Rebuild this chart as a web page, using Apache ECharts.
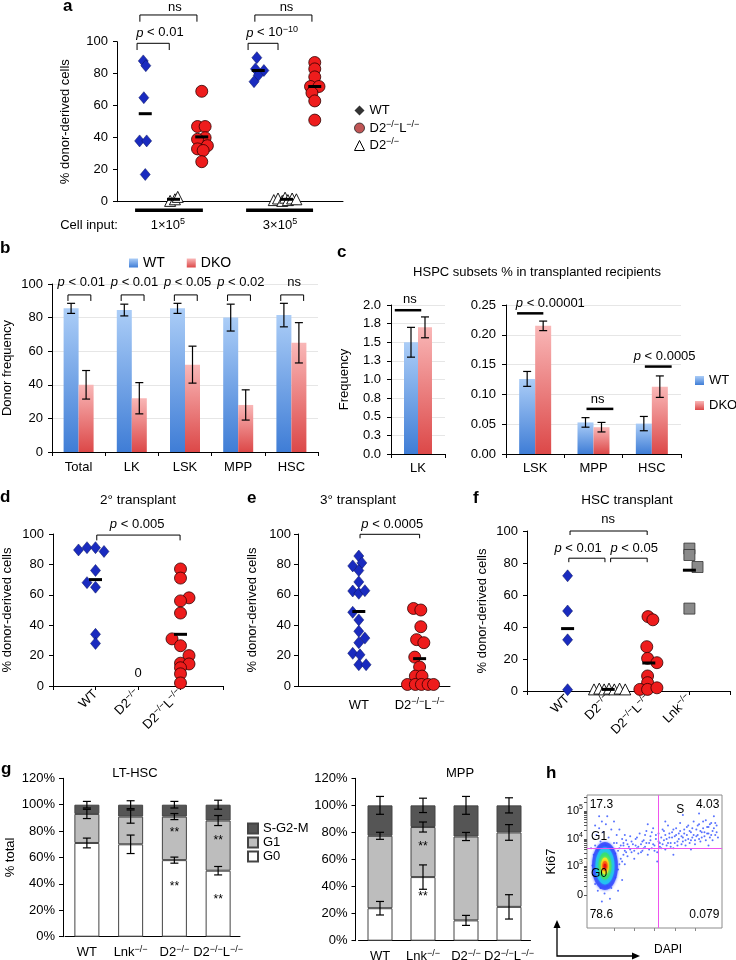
<!DOCTYPE html>
<html><head><meta charset="utf-8">
<script src="https://cdn.jsdelivr.net/npm/echarts@6/dist/echarts.min.js"></script>
<style>html,body{margin:0;padding:0;background:#fff}#c{width:736px;height:960px}</style>
</head><body><div id="c"></div>
<script>
// ---------------- DATA ----------------
// Panel a: [x position (group units, with jitter), % donor-derived]
const aWT = [[0.93,88],[1.02,85],[0.95,65],[0.8,38],[1.05,38],[1.0,17],[4.95,90],[4.9,83],[5.2,82],[5.0,79],[4.85,75]];
const aD2L = [[3.0,69],[2.85,47],[3.12,47],[3.12,40],[2.85,39],[3.2,35],[2.85,33],[3.05,32],[3.0,25],
              [7.0,87],[7.0,83],[7.0,78],[6.85,72],[7.15,72],[6.9,68],[7.0,63],[7.0,51]];
const aD2 = [[1.88,0.5],[2.05,1.5],[2.15,3],[5.55,1],[5.7,2],[5.85,0.5],[5.95,2.5],[6.05,1],[6.2,2],[6.35,1.5]];
const aMeans = [[1,55],[2,1.5],[3,40.5],[5,82],[6,1.5],[7,72]];

// Panel b
const bCats = ['Total','LK','LSK','MPP','HSC'];
const bWT = [85.5,84.5,85.5,80,81.5];
const bWTErr = [3,3.5,3,8,7];
const bDKO = [40,32,52,28,65];
const bDKOErr = [8.5,9.3,11,9,12];
const bP = ['p < 0.01','p < 0.01','p < 0.05','p < 0.02','ns'];

// Panel c
const cLeftCats = ['LK'];
const cLeftWT = [1.5], cLeftWTErr = [0.2];
const cLeftDKO = [1.7], cLeftDKOErr = [0.14];
const cRightCats = ['LSK','MPP','HSC'];
const cRightWT = [0.126,0.053,0.051], cRightWTErr = [0.0125,0.008,0.012];
const cRightDKO = [0.215,0.045,0.113], cRightDKOErr = [0.008,0.008,0.018];

// Panel d (2° transplant)
const dWT = [[0.6,89.5],[0.8,91],[1.0,91],[1.2,88.5],[1.0,76],[0.8,68],[1.0,65],[1.0,34],[1.0,28]];
const dD2L = [[3.0,77],[3.0,71],[3.2,58],[3.0,56],[3.0,48],[2.8,31],[3.0,26.5],[3.2,20],[3.0,15],[3.2,14.5],[3.0,12],[3.0,8],[3.0,2]];
const dMeans = [[1,70],[3,34]];

// Panel e (3° transplant)
const eWT = [[1.0,85.5],[1.05,81],[0.9,79],[1.0,76],[1.0,68.5],[0.9,62.5],[1.0,61],[1.1,62.7],[0.9,48.5],[1.0,43.5],
             [1.0,36],[1.1,31.5],[1.0,28.5],[0.9,21.5],[1.02,20.5],[1.0,14],[1.12,14]];
const eD2L = [[1.9,51],[2.02,50],[2.02,39],[1.95,30.5],[2.07,28.5],[1.92,19],[2.0,12.5],[1.93,6.5],[2.04,6.5],
              [1.8,1],[1.93,1],[2.03,1],[2.14,1],[2.23,1]];
const eMeans = [[1,49],[2,18]];

// Panel f (HSC transplant)
const fWT = [[1.0,72],[1.0,50],[1.0,32],[1.0,0.8]];
const fD2 = [[1.65,1],[1.78,1.5],[1.9,1],[2.02,1.5],[2.15,1],[2.28,1.5],[2.42,1]];
const fD2L = [[2.98,46.5],[3.1,44.5],[2.95,27.7],[2.97,20.4],[3.2,17.7],[2.97,9.4],[2.97,5.2],[2.78,1],[2.97,1],[3.2,2]];
const fLnk = [[4.0,89],[4.0,85],[4.2,77.5],[4.0,51.5]];
const fMeans = [[1,39],[2,1],[3,17.5],[4,75.5]];

// Panel g (cell cycle, % of total)
const gCats = ['WT','Lnk','D2','D2L'];
const gLtG0 = [71,70,58,50], gLtG1 = [22,21,33,38], gLtS = [7,9,9,12];
const gLtErrG0 = [3.7,7,2.3,3.2], gLtErrG1 = [3.5,5,2.3,3.8], gLtErrS = [2.5,3,2.5,3.4];
const gMppG0 = [24,47,15,25], gMppG1 = [53.5,37,62,55], gMppS = [22.5,16,23,20];
const gMppErrG0 = [5,9,3.7,9], gMppErrG1 = [2.6,3.7,3,5.8], gMppErrS = [6.6,5.3,6.6,5.6];

// Panel h (flow plot, display units 0-100)
const hGateX = 52.6, hGateY = 60;
const hCore = [[13.3,46.6]];
const hYTickPos = [24.8,46.6,67,88];
const hYTickText = ['0','10{s|3}','10{s|4}','10{s|5}'];
const hQuad = ['17.3','4.03','78.6','0.079'];
const hDots = [[4,47],[5,55],[5,40],[6,62],[6,33],[7,50],[7,70],[8,28],[8,58],[9,42],[9,75],[10,65],[10,30],[11,52],[11,80],
 [12,36],[12,72],[13,26],[14,62],[14,78],[15,32],[16,68],[16,40],[17,56],[18,74],[18,30],[19,47],[20,64],[21,38],[21,56],
 [22,70],[23,44],[24,60],[25,52],[26,36],[27,64],[15,84],[9,84],[20,80],[24,74],[6,77],[3,60],[28,48],[17,22],[11,20],[23,28],
 [28,58],[29,66],[30,54],[31,61],[32,69],[33,57],[34,63],[35,52],[36,67],[37,60],[38,56],[39,71],[40,63],[41,58],[42,66],
 [43,61],[44,73],[45,55],[46,64],[47,69],[48,60],[49,75],[50,62],[51,67],[52,57],[53,71],[54,64],[55,60],[56,74],[57,66],
 [58,70],[59,62],[60,77],[61,68],[62,64],[63,72],[64,60],[65,69],[66,75],[67,65],[68,71],[69,79],[70,63],[71,68],[72,74],
 [73,66],[74,70],[75,77],[76,64],[77,72],[78,68],[79,80],[80,66],[81,74],[82,70],[83,78],[84,65],[85,72],[86,75],[87,69],
 [88,81],[89,71],[90,76],[91,68],[92,79],[93,73],[94,84],[95,70],[96,77],[71,85],[58,80],[45,78],[83,86],[64,55],[77,59],
 [90,62],[52,50],
 [27,62],[29,57],[30,63],[32,59],[33,65],[35,58],[36,62],[37,68],[38,61],[40,57],[41,65],[42,60],[43,70],[44,64],[46,59],
 [47,66],[48,72],[49,63],[50,58],[51,70],[53,65],[54,61],[55,68],[56,63],[57,73],[58,59],[59,67],[60,64],[61,71],[62,61],
 [63,68],[64,74],[65,64],[66,70],[67,62],[68,67],[69,73],[70,69],[71,65],[72,71],[73,62],[74,76],[75,67],[76,73],[77,66],
 [78,75],[79,70],[80,63],[81,69],[82,77],[83,67],[84,73],[85,68],[86,80],[87,72],[88,66],[89,76],[90,71],[91,78],[92,70],
 [93,66],[94,75],[95,79],[96,72],[97,68],[26,50],[27,55],[25,62],[24,48],[26,67],[28,70],[22,64],[23,58],[20,52],[19,60]];

// ---------------- HELPERS ----------------
const FONT = '"Liberation Sans", Arial, Helvetica, sans-serif';
function rich(size){
  const s = Math.round(size*0.68);
  return {
    n:{fontSize:size,fontFamily:FONT,color:'#000',lineHeight:size+3},
    i:{fontSize:size,fontFamily:FONT,color:'#000',fontStyle:'italic',lineHeight:size+3},
    s:{fontSize:s,fontFamily:FONT,color:'#000',verticalAlign:'top',lineHeight:s+1}
  };
}
const T_D2 = '{n|D2}{s|−/−}';
const T_D2L = '{n|D2}{s|−/−}{n|L}{s|−/−}';
const T_LNK = '{n|Lnk}{s|−/−}';
const CAT_TXT = {WT:'{n|WT}', Lnk:T_LNK, D2:T_D2, D2L:T_D2L};
function pTxt(s){ return s.charAt(0)==='p' ? '{i|p}{n|'+s.slice(1)+'}' : '{n|'+s+'}'; }

const axLine = {show:true, lineStyle:{color:'#000', width:1}};
const axTick = {show:true, inside:false, length:4, lineStyle:{color:'#000', width:1}};
function lab(margin, extra){ return Object.assign({color:'#000', fontSize:13, fontFamily:FONT, margin:margin}, extra||{}); }
const nameStyle = {fontSize:13, fontFamily:FONT, color:'#000'};
const noSplit = {show:false};
const lightSplit = {show:true, lineStyle:{color:'#e6e6e6', width:1}};

function annoSeries(xi, items, isCat){
  return {
    type:'custom', xAxisIndex:xi, yAxisIndex:xi, clip:false, silent:true, z:10,
    data: items.map(it=>[0, it.y]),
    renderItem(params, api){
      const it = items[params.dataIndex];
      const P = (x,y)=>{
        if (isCat){ const b = api.coord([0,y]); const bw = api.size([1,0])[0]; return [b[0]+x*bw, b[1]]; }
        return api.coord([x,y]);
      };
      if (it.t==='br'){
        const a=P(it.x1,it.y), b=P(it.x2,it.y), ta=P(it.x1,it.y-it.tip), tb=P(it.x2,it.y-it.tip);
        return {type:'polyline', shape:{points:[ta,a,b,tb]}, style:{stroke:'#000', lineWidth:it.w||1, fill:null}};
      }
      if (it.t==='ln'){
        const a=P(it.x1,it.y), b=P(it.x2,it.y);
        return {type:'line', shape:{x1:a[0],y1:a[1],x2:b[0],y2:b[1]}, style:{stroke:'#000', lineWidth:it.w||1}};
      }
      const p=P(it.x,it.y), sz=it.size||13;
      return {type:'text', x:p[0], y:p[1], style:{text:it.text, rich:rich(sz), fill:'#000', font:sz+'px '+FONT,
        align:it.align||'center', verticalAlign:'middle', textAlign:it.align||'center', textVerticalAlign:'middle'}};
    }
  };
}
function errSeries(xi, tops, errs, offsetPx, cap){
  return {
    type:'custom', xAxisIndex:xi, yAxisIndex:xi, clip:false, silent:true, z:6,
    data: tops.map((v,i)=>[i, v, errs[i]]),
    renderItem(params, api){
      const i=api.value(0), v=api.value(1), e=api.value(2);
      const t=api.coord([i, v+e]), b=api.coord([i, v-e]);
      const x=t[0]+offsetPx, st={stroke:'#000', lineWidth:1.2};
      return {type:'group', children:[
        {type:'line', shape:{x1:x,y1:t[1],x2:x,y2:b[1]}, style:st},
        {type:'line', shape:{x1:x-cap,y1:t[1],x2:x+cap,y2:t[1]}, style:st},
        {type:'line', shape:{x1:x-cap,y1:b[1],x2:x+cap,y2:b[1]}, style:st}]};
    }
  };
}
const gradBlue = {type:'linear',x:0,y:0,x2:0,y2:1,colorStops:[{offset:0,color:'#abcdf7'},{offset:1,color:'#3f7dd6'}]};
const gradRed = {type:'linear',x:0,y:0,x2:0,y2:1,colorStops:[{offset:0,color:'#f9b7b7'},{offset:1,color:'#dc4848'}]};
const stWT = {color:'#1a2bbf', borderColor:'#0b155e', borderWidth:0.5, opacity:1};
const stD2L = {color:'#ee1c1c', borderColor:'#300000', borderWidth:0.8, opacity:1};
const stD2 = {color:'#ffffff', borderColor:'#000', borderWidth:0.9, opacity:1};
const stLnk = {color:'#8a8a8a', borderColor:'#333', borderWidth:0.8, opacity:1};
function dots(xi, name, data, symbol, size, st){
  return {type:'scatter', name:name, xAxisIndex:xi, yAxisIndex:xi, data:data, symbol:symbol, symbolSize:size, itemStyle:st, z:3, silent:true};
}
function means(xi, data){
  return {type:'scatter', xAxisIndex:xi, yAxisIndex:xi, data:data, symbol:'rect', symbolSize:[13,3], itemStyle:{color:'#000',opacity:1}, z:4, silent:true};
}
function cum(a,b){ return a.map((v,i)=>v+b[i]); }

// ---------------- GRIDS / AXES ----------------
const grids = [
  {left:117, top:41.7, width:226, height:160},   // a
  {left:52, top:284, width:266, height:168},     // b
  {left:391, top:305, width:54, height:149},     // c left
  {left:506, top:305, width:175, height:149},    // c right
  {left:53, top:534, width:170, height:152},     // d
  {left:298, top:534, width:152, height:152},    // e
  {left:527, top:531, width:203, height:160},    // f
  {left:65, top:778.3, width:175, height:158.4}, // g LT-HSC
  {left:358.5, top:778.3, width:172, height:162.4}, // g MPP
  {left:587, top:795, width:135, height:133, show:true, borderColor:'#8c8c8c', borderWidth:1} // h
].map(g=>Object.assign({outerBoundsMode:'none', containLabel:false}, g));

const catFmt = v=>CAT_TXT[v]||v;
const xAxes = [
  {gridIndex:0, type:'value', min:0, max:8, axisLine:axLine, axisTick:{show:false}, axisLabel:{show:false}, splitLine:noSplit},
  {gridIndex:1, type:'category', data:bCats, axisLine:axLine, axisTick:axTick, axisLabel:lab(9,{interval:0}), splitLine:noSplit},
  {gridIndex:2, type:'category', data:cLeftCats, axisLine:axLine, axisTick:axTick, axisLabel:lab(8,{interval:0}), splitLine:noSplit},
  {gridIndex:3, type:'category', data:cRightCats, axisLine:axLine, axisTick:axTick, axisLabel:lab(8,{interval:0}), splitLine:noSplit},
  {gridIndex:4, type:'value', min:0, max:4, axisLine:axLine, axisTick:Object.assign({},axTick,{customValues:[0,1,2,3,4]}),
    axisLabel:lab(6,{customValues:[1,2,3], rotate:45, rich:rich(13), formatter:v=>['','{n|WT}',T_D2,T_D2L][Math.round(v)]}), splitLine:noSplit},
  {gridIndex:5, type:'value', min:0, max:2.5, axisLine:axLine, axisTick:{show:false},
    axisLabel:lab(11,{customValues:[1,2], rich:rich(13), formatter:v=>['','{n|WT}',T_D2L][Math.round(v)]}), splitLine:noSplit},
  {gridIndex:6, type:'value', min:0, max:5, axisLine:axLine, axisTick:Object.assign({},axTick,{customValues:[0,1,2,3,4,5]}),
    axisLabel:lab(6,{customValues:[1,2,3,4], rotate:45, rich:rich(13), formatter:v=>['','{n|WT}',T_D2,T_D2L,T_LNK][Math.round(v)]}), splitLine:noSplit},
  {gridIndex:7, type:'category', data:gCats, axisLine:axLine, axisTick:{show:false}, axisLabel:lab(8,{interval:0, rich:rich(13), formatter:catFmt}), splitLine:noSplit},
  {gridIndex:8, type:'category', data:gCats, axisLine:axLine, axisTick:{show:false}, axisLabel:lab(8,{interval:0, rich:rich(13), formatter:catFmt}), splitLine:noSplit},
  {gridIndex:9, type:'value', min:0, max:100, axisLine:{show:false},
    axisTick:{show:true, inside:false, length:3, customValues:[20,35,50,65,80], lineStyle:{color:'#888'}}, axisLabel:{show:false}, splitLine:noSplit}
];

// minor log ticks for h y-axis
const hMinor = [];
[[46.6,67],[67,88]].forEach(([a,b])=>{ for(let k=1;k<=9;k++){ hMinor.push(a+(b-a)*Math.log10(k)); } });
hMinor.push(88);
[2,3,4].forEach(k=>{ const v=88+(88-67)*Math.log10(k); if(v<100) hMinor.push(v); });
hMinor.push(24.8);
[2,3,4,5,6,7,8,9].forEach(k=>hMinor.push(24.8+(46.6-24.8)*Math.log10(k)));

const yAxes = [
  {gridIndex:0, type:'value', min:0, max:100, interval:20, axisLine:axLine, axisTick:axTick, axisLabel:lab(9), splitLine:noSplit,
    name:'% donor-derived cells', nameLocation:'middle', nameGap:45, nameTextStyle:nameStyle},
  {gridIndex:1, type:'value', min:0, max:100, interval:20, axisLine:axLine, axisTick:axTick, axisLabel:lab(9), splitLine:lightSplit,
    name:'Donor frequency', nameLocation:'middle', nameGap:38, nameTextStyle:nameStyle},
  {gridIndex:2, type:'value', min:0, max:2, interval:0.25, axisLine:axLine, axisTick:axTick, axisLabel:lab(10,{formatter:v=>v.toFixed(1)}), splitLine:lightSplit,
    name:'Frequency', nameLocation:'middle', nameGap:40, nameTextStyle:nameStyle},
  {gridIndex:3, type:'value', min:0, max:0.25, interval:0.05, axisLine:axLine, axisTick:axTick, axisLabel:lab(10,{formatter:v=>v.toFixed(2)}), splitLine:lightSplit},
  {gridIndex:4, type:'value', min:0, max:100, interval:20, axisLine:axLine, axisTick:axTick, axisLabel:lab(9), splitLine:noSplit,
    name:'% donor-derived cells', nameLocation:'middle', nameGap:39, nameTextStyle:nameStyle},
  {gridIndex:5, type:'value', min:0, max:100, interval:20, axisLine:axLine, axisTick:axTick, axisLabel:lab(7), splitLine:noSplit,
    name:'% donor-derived cells', nameLocation:'middle', nameGap:39, nameTextStyle:nameStyle},
  {gridIndex:6, type:'value', min:0, max:100, interval:20, axisLine:axLine, axisTick:axTick, axisLabel:lab(9), splitLine:noSplit,
    name:'% donor-derived cells', nameLocation:'middle', nameGap:38, nameTextStyle:nameStyle},
  {gridIndex:7, type:'value', min:0, max:120, interval:20, offset:2, axisLine:axLine, axisTick:axTick, axisLabel:lab(8,{formatter:'{value}%'}), splitLine:noSplit,
    name:'% total', nameLocation:'middle', nameGap:46, nameTextStyle:nameStyle},
  {gridIndex:8, type:'value', min:0, max:120, interval:20, offset:3, axisLine:axLine, axisTick:axTick, axisLabel:lab(8,{formatter:'{value}%'}), splitLine:noSplit},
  {gridIndex:9, type:'value', min:0, max:100, axisLine:{show:false},
    axisTick:{show:true, inside:false, length:3, customValues:hMinor, lineStyle:{color:'#555'}},
    axisLabel:lab(4,{fontSize:11, rich:rich(11), customValues:hYTickPos,
      formatter:v=>{ let bi=0; hYTickPos.forEach((p,i)=>{ if(Math.abs(p-v)<Math.abs(hYTickPos[bi]-v)) bi=i; }); const t=hYTickText[bi]; return t.indexOf('{s|')>=0 ? '{n|'+t.replace('{s|','}{s|') : '{n|'+t+'}'; }}),
    splitLine:noSplit, name:'Ki67', nameLocation:'middle', nameGap:29, nameTextStyle:nameStyle}
];

// ---------------- SERIES ----------------
const series = [];
// a
series.push(dots(0,'aWT',aWT,'diamond',[10,12],stWT));
series.push(dots(0,'aD2L',aD2L,'circle',12,stD2L));
series.push(dots(0,'aD2',aD2,'triangle',11,stD2));
series.push(means(0,aMeans));
series.push(annoSeries(0,[
  {t:'br',x1:0.81,x2:2.83,y:116.7,tip:4.2},{t:'tx',x:2.05,y:121.5,text:'{n|ns}'},
  {t:'br',x1:0.71,x2:1.85,y:99,tip:4.2},{t:'tx',x:1.52,y:105.5,text:pTxt('p < 0.01')},
  {t:'br',x1:4.88,x2:6.9,y:116.7,tip:4.2},{t:'tx',x:6.0,y:121.5,text:'{n|ns}'},
  {t:'br',x1:4.64,x2:5.7,y:99,tip:4.2},{t:'tx',x:5.49,y:105.5,text:'{i|p}{n| < 10}{s|−10}'},
  {t:'ln',x1:0.64,x2:3.04,y:-5.3,w:3.5},{t:'ln',x1:4.57,x2:6.94,y:-5.3,w:3.5},
  {t:'tx',x:-0.99,y:-14.6,text:'{n|Cell input:}'},
  {t:'tx',x:1.8,y:-14.6,text:'{n|1×10}{s|5}'},{t:'tx',x:5.77,y:-14.6,text:'{n|3×10}{s|5}'}
], false));
// b
series.push({type:'bar', name:'bWT', xAxisIndex:1, yAxisIndex:1, data:bWT, barWidth:15, barGap:'0%', itemStyle:{color:gradBlue}, silent:true});
series.push({type:'bar', name:'bDKO', xAxisIndex:1, yAxisIndex:1, data:bDKO, barWidth:15, barGap:'0%', itemStyle:{color:gradRed}, silent:true});
series.push(errSeries(1,bWT,bWTErr,-7.5,4));
series.push(errSeries(1,bDKO,bDKOErr,7.5,4));
series.push(annoSeries(1, bP.flatMap((p,i)=>[{t:'br',x1:i-0.2,x2:i+0.23,y:93.5,tip:3.6},{t:'tx',x:i+0.05,y:101,text:pTxt(p)}]), true));
// c left
series.push({type:'bar', name:'cWT', xAxisIndex:2, yAxisIndex:2, data:cLeftWT, barWidth:14, barGap:'0%', itemStyle:{color:gradBlue}, silent:true});
series.push({type:'bar', name:'cDKO', xAxisIndex:2, yAxisIndex:2, data:cLeftDKO, barWidth:14, barGap:'0%', itemStyle:{color:gradRed}, silent:true});
series.push(errSeries(2,cLeftWT,cLeftWTErr,-7,4));
series.push(errSeries(2,cLeftDKO,cLeftDKOErr,7,4));
series.push(annoSeries(2,[{t:'ln',x1:-0.43,x2:0.06,y:1.93,w:2.5},{t:'tx',x:-0.15,y:2.07,text:'{n|ns}'}], true));
// c right
series.push({type:'bar', name:'cWT', xAxisIndex:3, yAxisIndex:3, data:cRightWT, barWidth:16, barGap:'0%', itemStyle:{color:gradBlue}, silent:true});
series.push({type:'bar', name:'cDKO', xAxisIndex:3, yAxisIndex:3, data:cRightDKO, barWidth:16, barGap:'0%', itemStyle:{color:gradRed}, silent:true});
series.push(errSeries(3,cRightWT,cRightWTErr,-8,4));
series.push(errSeries(3,cRightDKO,cRightDKOErr,8,4));
series.push(annoSeries(3,[
  {t:'ln',x1:-0.31,x2:0.14,y:0.236,w:2.5},{t:'tx',x:0.26,y:0.2534,text:pTxt('p < 0.00001')},
  {t:'ln',x1:0.88,x2:1.34,y:0.0757,w:2.5},{t:'tx',x:1.07,y:0.0908,text:'{n|ns}'},
  {t:'ln',x1:1.88,x2:2.34,y:0.1467,w:2.5},{t:'tx',x:2.22,y:0.163,text:pTxt('p < 0.0005')}
], true));
// d
series.push(dots(4,'dWT',dWT,'diamond',[10,12],stWT));
series.push(dots(4,'dD2L',dD2L,'circle',12,stD2L));
series.push(means(4,dMeans));
series.push(annoSeries(4,[{t:'br',x1:1.03,x2:2.99,y:99.3,tip:3.5},{t:'tx',x:1.98,y:106,text:pTxt('p < 0.005')},{t:'tx',x:2,y:8.5,text:'{n|0}'}], false));
// e
series.push(dots(5,'eWT',eWT,'diamond',[10,12],stWT));
series.push(dots(5,'eD2L',eD2L,'circle',12,stD2L));
series.push(means(5,eMeans));
series.push(annoSeries(5,[{t:'br',x1:1.02,x2:2.0,y:99.8,tip:2.6},{t:'tx',x:1.55,y:106.6,text:pTxt('p < 0.0005')}], false));
// f
series.push(dots(6,'fWT',fWT,'diamond',[10,12],stWT));
series.push(dots(6,'fD2',fD2,'triangle',11,stD2));
series.push(dots(6,'fD2L',fD2L,'circle',12,stD2L));
series.push(dots(6,'fLnk',fLnk,'rect',11,stLnk));
series.push(means(6,fMeans));
series.push(annoSeries(6,[
  {t:'br',x1:1.06,x2:2.96,y:100,tip:2.5},{t:'tx',x:2.0,y:107.5,text:'{n|ns}'},
  {t:'br',x1:1.03,x2:1.92,y:83,tip:2.5},{t:'tx',x:1.26,y:89.4,text:pTxt('p < 0.01')},
  {t:'br',x1:2.06,x2:2.96,y:83,tip:2.5},{t:'tx',x:2.64,y:89.4,text:pTxt('p < 0.05')}
], false));
// g
const gBar = (xi, name, data, color, stack)=>({type:'bar', name:name, xAxisIndex:xi, yAxisIndex:xi, data:data, stack:stack, barWidth:25,
  itemStyle:{color:color, borderColor:'#444', borderWidth:1}, silent:true});
series.push(gBar(7,'G0',gLtG0,'#ffffff','lt'), gBar(7,'G1',gLtG1,'#bdbdbd','lt'), gBar(7,'S-G2-M',gLtS,'#555555','lt'));
series.push(errSeries(7,gLtG0,gLtErrG0,0,4), errSeries(7,cum(gLtG0,gLtG1),gLtErrG1,0,4), errSeries(7,cum(cum(gLtG0,gLtG1),gLtS),gLtErrS,0,4));
series.push(gBar(8,'G0',gMppG0,'#ffffff','mpp'), gBar(8,'G1',gMppG1,'#bdbdbd','mpp'), gBar(8,'S-G2-M',gMppS,'#555555','mpp'));
series.push(errSeries(8,gMppG0,gMppErrG0,0,4), errSeries(8,cum(gMppG0,gMppG1),gMppErrG1,0,4), errSeries(8,cum(cum(gMppG0,gMppG1),gMppS),gMppErrS,0,4));
series.push(annoSeries(7,[{t:'tx',x:2,y:78.6,text:'{n|**}',size:12},{t:'tx',x:2,y:38,text:'{n|**}',size:12},
  {t:'tx',x:3,y:73,text:'{n|**}',size:12},{t:'tx',x:3,y:28,text:'{n|**}',size:12}], true));
series.push(annoSeries(8,[{t:'tx',x:1,y:69.5,text:'{n|**}',size:12},{t:'tx',x:1,y:32.5,text:'{n|**}',size:12}], true));
// h
series.push({type:'scatter', xAxisIndex:9, yAxisIndex:9, data:hDots, symbol:'circle', symbolSize:2, itemStyle:{color:'#3050ff', opacity:0.8}, silent:true, z:2,
  markLine:{silent:true, symbol:'none', label:{show:false}, lineStyle:{color:'#ee55ee', width:1, type:'solid'},
    data:[{xAxis:hGateX},{yAxis:hGateY}]}});
[['#2f45ff',[26,48],0.8],['#22c4f2',[19,37],0.9],['#38e070',[13,27],0.95],['#f2ee22',[8,17],1],['#ff6a10',[5,10],1],['#e81010',[3,5],1]].forEach(([c,sz,op])=>{
  series.push({type:'scatter', xAxisIndex:9, yAxisIndex:9, data:hCore, symbol:'circle', symbolSize:sz,
    itemStyle:{color:c, opacity:op, shadowBlur:3, shadowColor:c}, silent:true, z:3});
});
series.push(annoSeries(9,[
  {t:'tx',x:2,y:92.5,text:'{n|'+hQuad[0]+'}',size:12,align:'left'},
  {t:'tx',x:69,y:88.7,text:'{n|S}',size:12},
  {t:'tx',x:98,y:92.5,text:'{n|'+hQuad[1]+'}',size:12,align:'right'},
  {t:'tx',x:3,y:69,text:'{n|G1}',size:12,align:'left'},
  {t:'tx',x:3,y:40.6,text:'{n|G0}',size:12,align:'left'},
  {t:'tx',x:2,y:9.8,text:'{n|'+hQuad[2]+'}',size:12,align:'left'},
  {t:'tx',x:98,y:9.8,text:'{n|'+hQuad[3]+'}',size:12,align:'right'}
], false));

// ---------------- LEGENDS ----------------
const LEG_TXT = {aWT:'{n|WT}', aD2L:T_D2L, aD2:T_D2, bWT:'{n|WT}', bDKO:'{n|DKO}', cWT:'{n|WT}', cDKO:'{n|DKO}',
  'S-G2-M':'{n|S-G2-M}', G1:'{n|G1}', G0:'{n|G0}'};
const legFmt = n=>LEG_TXT[n]||n;
const legends = [
  {orient:'vertical', left:349, top:99, itemWidth:10, itemHeight:10, itemGap:3, selectedMode:false, formatter:legFmt,
    textStyle:{fontSize:13, fontFamily:FONT, color:'#000', rich:rich(13)},
    data:[{name:'aWT', icon:'diamond', itemStyle:{color:'#333', borderWidth:0}},
          {name:'aD2L', icon:'circle', itemStyle:{color:'#c05555', borderColor:'#222', borderWidth:0.8}},
          {name:'aD2', icon:'triangle', itemStyle:{color:'#fff', borderColor:'#000', borderWidth:1}}]},
  {orient:'horizontal', left:124, top:251, itemWidth:9, itemHeight:9, itemGap:22, selectedMode:false, formatter:legFmt,
    textStyle:{fontSize:14, fontFamily:FONT, color:'#000', rich:rich(14)},
    data:[{name:'bWT', icon:'rect'},{name:'bDKO', icon:'rect'}]},
  {orient:'vertical', left:690, top:369, itemWidth:9, itemHeight:9, itemGap:12, selectedMode:false, formatter:legFmt,
    textStyle:{fontSize:13, fontFamily:FONT, color:'#000', rich:rich(13)},
    data:[{name:'cWT', icon:'rect'},{name:'cDKO', icon:'rect'}]},
  {orient:'vertical', left:242, top:817, itemWidth:10, itemHeight:10, itemGap:1, selectedMode:false, formatter:legFmt,
    textStyle:{fontSize:13, fontFamily:FONT, color:'#000', rich:rich(13)},
    data:[{name:'S-G2-M', icon:'rect'},{name:'G1', icon:'rect'},{name:'G0', icon:'rect'}]}
];

// ---------------- GRAPHIC (letters, titles, arrows) ----------------
function gtext(x, y, text, size, bold, align){
  return {type:'text', x:x, y:y, silent:true, style:{text:text, fill:'#000', font:(bold?'bold ':'')+size+'px '+FONT,
    align:align||'left', verticalAlign:'middle', textAlign:align||'left', textVerticalAlign:'middle'}};
}
const graphic = [
  gtext(63,6,'a',17,true), gtext(0,248,'b',17,true), gtext(337,252,'c',17,true), gtext(0,497,'d',17,true),
  gtext(247,498,'e',17,true), gtext(473,498,'f',17,true), gtext(1,769,'g',17,true), gtext(546,773,'h',17,true),
  gtext(537,272,'HSPC subsets % in transplanted recipients',13,false,'center'),
  gtext(138,500,'2° transplant',13.5,false,'center'),
  gtext(358,500,'3° transplant',13.5,false,'center'),
  gtext(627,500,'HSC transplant',13.5,false,'center'),
  gtext(135,773,'LT-HSC',13,false,'center'),
  gtext(460,773,'MPP',13,false,'center'),
  gtext(668,950,'DAPI',12,false,'center'),
  {type:'polyline', silent:true, shape:{points:[[557,927],[557,956],[633,956]]}, style:{stroke:'#000', lineWidth:1.3, fill:null}},
  {type:'polygon', silent:true, shape:{points:[[553.5,928],[560.5,928],[557,920]]}, style:{fill:'#000'}},
  {type:'polygon', silent:true, shape:{points:[[632,952.5],[632,959.5],[640,956]]}, style:{fill:'#000'}}
];

const chart = echarts.init(document.getElementById('c'), null, {renderer:'canvas'});
chart.setOption({
  animation:false, backgroundColor:'#fff',
  textStyle:{fontFamily:FONT},
  grid:grids, xAxis:xAxes, yAxis:yAxes, legend:legends, series:series, graphic:graphic
});
</script></body></html>
